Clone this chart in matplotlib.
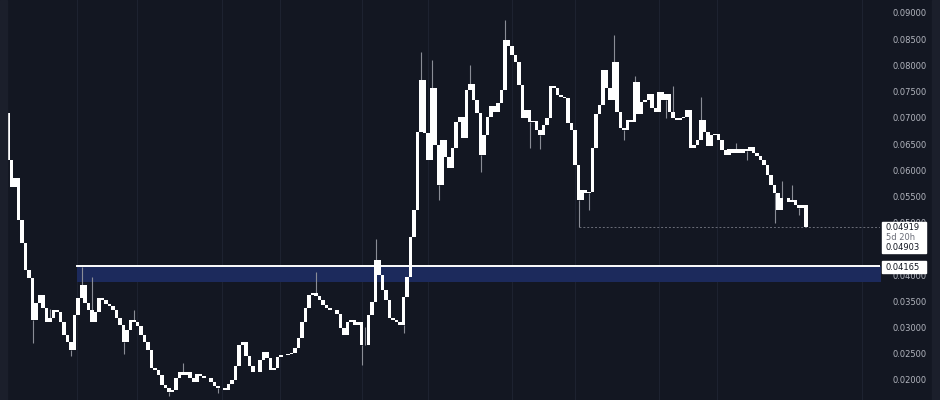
import numpy as np
import matplotlib
matplotlib.use("Agg")
import matplotlib.pyplot as plt
from matplotlib.patches import Rectangle

# closing prices, one per candle (open = previous close)
first_open = 0.0709
closes = [
    # early decline
    0.0620, 0.0568, 0.0585, 0.0505, 0.0461, 0.0410, 0.0394, 0.0314, 0.0347, 0.0362,
    0.0337, 0.0311, 0.0318, 0.0333, 0.0330, 0.0311, 0.0286, 0.0272, 0.0257, 0.0324,
    0.0356, 0.0381, 0.0347, 0.0333, 0.0311, 0.0330, 0.0356, 0.0352, 0.0345, 0.0341,
    # slide to the lows
    0.0333, 0.0318, 0.0305, 0.0272, 0.0295, 0.0314, 0.0311, 0.0303, 0.0286, 0.0272,
    0.0257, 0.0223, 0.0219, 0.0209, 0.0190, 0.0185, 0.0177, 0.0181, 0.0204, 0.0215,
    0.0209, 0.0215, 0.0204, 0.0196, 0.0211, 0.0207, 0.0204, 0.0204,
    0.0196, 0.0188, 0.0185, 0.0185, 0.0181, 0.0192, 0.0200, 0.0227, 0.0267, 0.0272,
    0.0246, 0.0227, 0.0215, 0.0215, 0.0238, 0.0253, 0.0242, 0.0219, 0.0223, 0.0244,
    0.0248, 0.0248, 0.0250, 0.0251, 0.0261, 0.0280, 0.0311, 0.0337,
    # recovery
    0.0362, 0.0366, 0.0360, 0.0352, 0.0343, 0.0337, 0.0333, 0.0333, 0.0326, 0.0299,
    0.0286, 0.0311, 0.0314, 0.0305, 0.0311, 0.0267, 0.0267, 0.0324, 0.0349, 0.0429,
    0.0400, 0.0372, 0.0352, 0.0318, 0.0314, 0.0311, 0.0305, 0.0358, 0.0396, 0.0473,
    # breakout
    0.0524, 0.0673, 0.0772, 0.0671, 0.0620, 0.0757, 0.0648, 0.0572, 0.0658, 0.0625,
    0.0604, 0.0642, 0.0692, 0.0702, 0.0662, 0.0753, 0.0765, 0.0734, 0.0709, 0.0629,
    0.0667, 0.0702, 0.0723, 0.0711, 0.0728, 0.0753, 0.0848, 0.0837, 0.0820,
    0.0807, 0.0763, 0.0700, 0.0715, 0.0692, 0.0694, 0.0677, 0.0667, 0.0686, 0.0700,
    0.0761, 0.0757, 0.0744, 0.0740, 0.0738, 0.0690, 0.0677, 0.0610, 0.0543, 0.0562,
    0.0557, 0.0558, 0.0642, 0.0707, 0.0725, 0.0791, 0.0757, 0.0734, 0.0807,
    0.0711, 0.0681, 0.0677, 0.0696, 0.0692, 0.0768, 0.0707, 0.0730, 0.0734, 0.0746,
    0.0719, 0.0711, 0.0749, 0.0734, 0.0746, 0.0711, 0.0700, 0.0696, 0.0700, 0.0702,
    0.0715, 0.0642, 0.0648, 0.0658, 0.0696, 0.0673, 0.0646, 0.0667, 0.0669,
    # fade
    0.0658, 0.0639, 0.0630, 0.0641, 0.0633, 0.0641, 0.0632, 0.0640, 0.0636, 0.0644,
    0.0633, 0.0627, 0.0620, 0.0610, 0.0591, 0.0572, 0.0557, 0.0524, 0.0547, 0.0547,
    0.0540, 0.0543, 0.0534, 0.0528, 0.0534, 0.04919,
]

# notable wicks: candle index -> value
wick_highs = {21: 0.0416, 24: 0.0396, 36: 0.0333, 88: 0.0406, 105: 0.0468,
              113: 0.0348, 118: 0.0826, 121: 0.0810, 132: 0.0800, 142: 0.0887,
              173: 0.0858, 179: 0.0780, 190: 0.0760, 198: 0.0740, 224: 0.0572,
              221: 0.0580, 12: 0.0335, 50: 0.0232, 102: 0.0300, 208: 0.0652}
wick_lows = {7: 0.0270, 18: 0.0245, 33: 0.0250, 46: 0.0170, 101: 0.0228,
             123: 0.0543, 135: 0.0597, 149: 0.0642, 152: 0.0640, 163: 0.04919,
             166: 0.0524, 176: 0.0658, 188: 0.0700, 219: 0.0500, 226: 0.0515,
             60: 0.0175, 113: 0.0290, 211: 0.0620}

zone_top = 0.04165
zone_bottom = 0.0386
last_price = 0.04919
prev_price = 0.04903
grid_idx = [19.7, 36.9, 61, 77.7, 101, 120, 144, 162, 186, 202.6, 244]
yticks = [0.02, 0.025, 0.03, 0.035, 0.04, 0.045, 0.05, 0.055, 0.06,
          0.065, 0.07, 0.075, 0.08, 0.085, 0.09]

bg = "#131722"
fig = plt.figure(figsize=(9.4, 4.0), dpi=100, facecolor=bg)
ax = fig.add_axes([0, 0, 880 / 940, 1])
ax.set_facecolor(bg)

n = len(closes)
x = np.arange(n)
opens = np.array([first_open] + closes[:-1])
c = np.array(closes)

# left edge strip and right edge strip
fig.patches.append(Rectangle((0, 0), 7 / 940, 1, transform=fig.transFigure,
                             color="#1b1f2b", zorder=0))
fig.patches.append(Rectangle((932 / 940, 0), 8 / 940, 1, transform=fig.transFigure,
                             color="#1b1f2b", zorder=0))

for g in grid_idx:
    ax.axvline(g, color="#1d2230", lw=0.8, zorder=1)

# support zone
ax.fill_between([19.7, 260], zone_bottom, zone_top, color="#1c2a5c", lw=0, zorder=2)
ax.plot([19.7, 260], [zone_top, zone_top], color="white", lw=1.4, zorder=3)

# dashed price line
ax.plot([163, 260], [last_price, last_price], color="#6a6d78", lw=0.7,
        ls=(0, (2, 2)), zorder=2)

# wicks
for i in range(n):
    top = max(opens[i], c[i])
    bot = min(opens[i], c[i])
    hi = wick_highs.get(i, top)
    lo = wick_lows.get(i, bot)
    if hi > top:
        ax.vlines(i, top, hi, color="#8a8d96", lw=0.8, zorder=3)
    if lo < bot:
        ax.vlines(i, lo, bot, color="#8a8d96", lw=0.8, zorder=3)

# bodies
ax.bar(x, c - opens, bottom=opens, width=0.95, color="white", lw=0, zorder=4)

x_left = (0 - 8) / 3.5
x_right = (880 - 8) / 3.5
ax.set_xlim(x_left, x_right)
ax.set_ylim(0.01616, 0.09248)

ax.yaxis.tick_right()
ax.set_yticks(yticks)
ax.set_yticklabels(["%.5f" % v for v in yticks])
ax.tick_params(axis="y", length=0, pad=9, labelcolor="#b2b5be", labelsize=6)
ax.set_xticks([])
for s in ax.spines.values():
    s.set_visible(False)

# price labels on the axis
def px(xp, yp):
    return xp / 940, 1 - yp / 400

fig.patches.append(Rectangle(px(882, 253), 44 / 940, 31 / 400,
                             transform=fig.transFigure, color="white", zorder=5))
fig.text(*px(886, 228), "%.5f" % last_price, color="#131722", fontsize=6,
         va="center", zorder=6)
fig.text(*px(886, 238), "5d 20h", color="#6a6d78", fontsize=6, va="center", zorder=6)
fig.text(*px(886, 248), "%.5f" % prev_price, color="#131722", fontsize=6,
         va="center", zorder=6)

fig.patches.append(Rectangle(px(882, 273), 44 / 940, 12 / 400,
                             transform=fig.transFigure, color="white", zorder=5))
fig.text(*px(886, 267), "%.5f" % zone_top, color="#131722", fontsize=6,
         va="center", zorder=6)

fig.savefig("out.png", dpi=100, facecolor=bg)
